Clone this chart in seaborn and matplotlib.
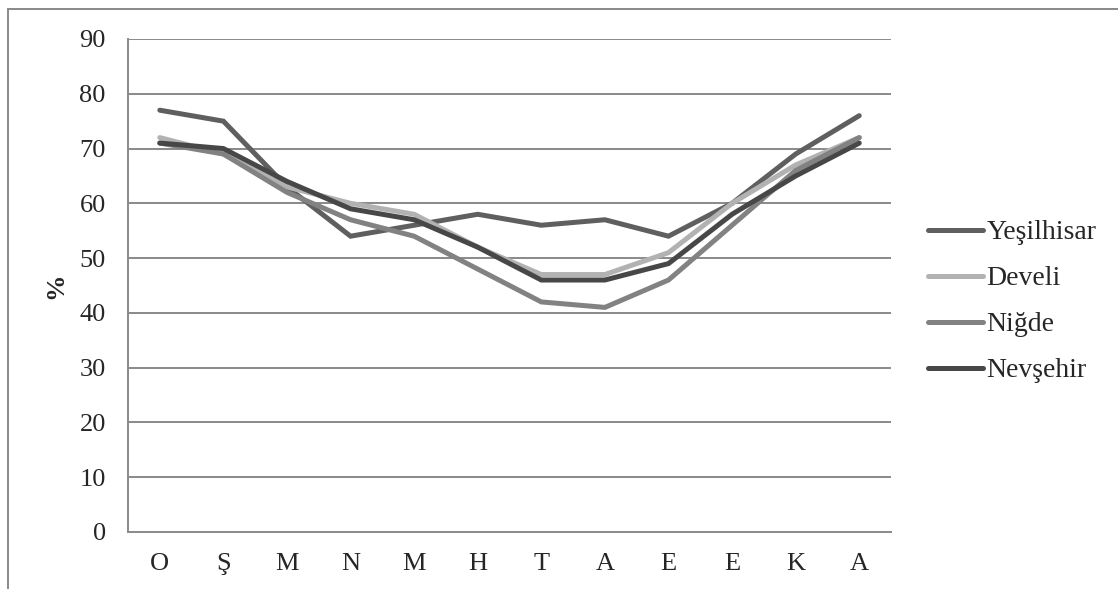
import matplotlib
matplotlib.use("Agg")
import matplotlib.pyplot as plt
from matplotlib.lines import Line2D
import seaborn as sns
import pandas as pd

months = ["O", "Ş", "M", "N", "M", "H", "T", "A", "E", "E", "K", "A"]
yesilhisar = [77, 75, 63, 54, 56, 58, 56, 57, 54, 60, 69, 76]
develi = [72, 69, 63, 60, 58, 52, 47, 47, 51, 60, 67, 72]
nigde = [71, 69, 62, 57, 54, 48, 42, 41, 46, 56, 66, 72]
nevsehir = [71, 70, 64, 59, 57, 52, 46, 46, 49, 58, 65, 71]
series_names = ["Yeşilhisar", "Develi", "Niğde", "Nevşehir"]
yticks = [0, 10, 20, 30, 40, 50, 60, 70, 80, 90]

sns.set_style("white")
plt.rcParams["font.family"] = ["Liberation Serif", "DejaVu Serif"]

rows = []
for name, vals in zip(series_names, [yesilhisar, develi, nigde, nevsehir]):
    for i, v in enumerate(vals):
        rows.append({"idx": i, "value": v, "Station": name})
df = pd.DataFrame(rows)

palette = {"Yeşilhisar": "#5f5f5f", "Develi": "#b2b2b2",
           "Niğde": "#828282", "Nevşehir": "#474747"}

fig = plt.figure(figsize=(11.18, 5.89), dpi=100)
ax = fig.add_axes([0.1145, 0.0968, 0.797 - 0.1145, 0.9338 - 0.0968])

sns.lineplot(data=df, x="idx", y="value", hue="Station", palette=palette,
             hue_order=series_names, linewidth=3.6, ax=ax, legend=False,
             solid_capstyle="round", solid_joinstyle="miter")

grid_c = "#8c8c8c"
ax.set_xlim(-0.5, 11.5)
ax.set_ylim(0, 90)
ax.set_yticks(yticks)
ax.set_yticklabels([str(t) for t in yticks], fontsize=19)
ax.yaxis.grid(True, color=grid_c, linewidth=1.45)
ax.xaxis.grid(False)
ax.set_axisbelow(True)

ax.set_xticks(range(len(months)))
ax.set_xticklabels(months, fontsize=19)
ax.set_xticks([i - 0.5 for i in range(len(months) + 1)], minor=True)
ax.tick_params(axis="x", which="major", length=0, pad=15)
ax.tick_params(axis="x", which="minor", length=6, width=1.45, color=grid_c, direction="out")
ax.tick_params(axis="y", length=6, width=1.45, color=grid_c, direction="out", pad=10)

for s in ["top", "right"]:
    ax.spines[s].set_visible(False)
for s in ["left", "bottom"]:
    ax.spines[s].set_color(grid_c)
    ax.spines[s].set_linewidth(1.45)

ax.set_xlabel("")
ax.set_ylabel("%", fontsize=19, fontweight="bold", labelpad=9)

handles = [Line2D([0], [0], color=palette[n], linewidth=3.6, solid_capstyle="round")
           for n in series_names]
fig.legend(handles, series_names, loc="center left", bbox_to_anchor=(928 / 1118, 0.488),
           frameon=False, fontsize=20, handlelength=1.98, handletextpad=0.12,
           labelspacing=0.74, borderaxespad=0, borderpad=0)

# outer chart border (left and top visible)
fig.add_artist(Line2D([8 / 1118, 8 / 1118], [0, 1 - 9 / 589], transform=fig.transFigure,
                      color="#8c8c8c", linewidth=1.45))
fig.add_artist(Line2D([8 / 1118, 1], [1 - 9 / 589, 1 - 9 / 589], transform=fig.transFigure,
                      color="#8c8c8c", linewidth=1.45))

fig.savefig("out.png", dpi=100, facecolor="white")
